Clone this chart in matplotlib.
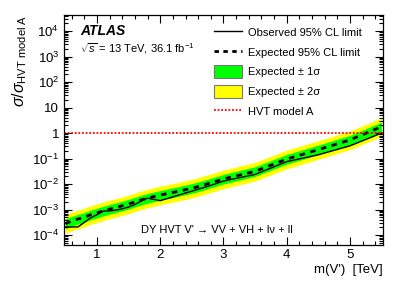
import numpy as np
import matplotlib
matplotlib.use('Agg')
import matplotlib.pyplot as plt
from matplotlib.lines import Line2D
from matplotlib.patches import Patch
from matplotlib.ticker import FixedLocator, LogLocator, MultipleLocator, NullFormatter

plt.rcParams['font.family'] = ['Liberation Sans', 'DejaVu Sans']
plt.rcParams['mathtext.fontset'] = 'custom'
plt.rcParams['mathtext.rm'] = 'Liberation Sans'
plt.rcParams['mathtext.it'] = 'Liberation Sans:italic'
plt.rcParams['mathtext.bf'] = 'Liberation Sans:bold'

# DATOS (log10 de sigma / sigma_HVT)
masa = [0.5, 0.6, 0.7, 0.8, 0.9, 1.0, 1.1, 1.2, 1.3, 1.4, 1.5, 1.6, 1.7, 1.8, 1.9,
        2.0, 2.2, 2.4, 2.6, 2.8, 3.0, 3.5, 4.0, 4.5, 5.0, 5.5]
esperado = [-3.55, -3.45, -3.37, -3.30, -3.20, -3.13, -3.05, -2.98, -2.92, -2.85, -2.78,
            -2.70, -2.62, -2.55, -2.49, -2.43, -2.33, -2.22, -2.10, -1.95, -1.80, -1.50,
            -1.02, -0.65, -0.27, 0.25]
observado = [-3.68, -3.68, -3.68, -3.50, -3.32, -3.20, -3.06, -3.05, -3.02, -2.97, -2.90,
             -2.80, -2.66, -2.55, -2.60, -2.65, -2.50, -2.35, -2.20, -2.05, -1.88, -1.62,
             -1.12, -0.85, -0.50, 0.00]
mas_1s = [-3.37, -3.27, -3.19, -3.12, -3.02, -2.95, -2.87, -2.80, -2.74, -2.67, -2.60,
          -2.52, -2.44, -2.37, -2.31, -2.25, -2.15, -2.04, -1.92, -1.77, -1.62, -1.32,
          -0.84, -0.47, -0.09, 0.43]
menos_1s = [-3.75, -3.65, -3.57, -3.50, -3.40, -3.33, -3.25, -3.18, -3.12, -3.05, -2.98,
            -2.90, -2.82, -2.75, -2.69, -2.63, -2.53, -2.42, -2.30, -2.15, -2.00, -1.70,
            -1.22, -0.85, -0.47, 0.05]
mas_2s = [-3.20, -3.10, -3.02, -2.95, -2.85, -2.78, -2.70, -2.63, -2.57, -2.50, -2.43,
          -2.35, -2.27, -2.20, -2.14, -2.08, -1.98, -1.87, -1.75, -1.60, -1.45, -1.15,
          -0.67, -0.30, 0.08, 0.60]
menos_2s = [-3.93, -3.83, -3.75, -3.68, -3.58, -3.51, -3.43, -3.36, -3.30, -3.23, -3.16,
            -3.08, -3.00, -2.93, -2.87, -2.81, -2.71, -2.60, -2.48, -2.33, -2.18, -1.88,
            -1.40, -1.03, -0.65, -0.13]
modelo_A = 1.0

m = np.array(masa)
exp_ = 10 ** np.array(esperado)
obs = 10 ** np.array(observado)

# FIGURA
fig = plt.figure(figsize=(4.03, 2.92), dpi=100)
ax = fig.add_axes([0.159, 0.161, 0.791, 0.788])

ax.fill_between(m, 10 ** np.array(menos_2s), 10 ** np.array(mas_2s), color='#ffff00', lw=0)
ax.fill_between(m, 10 ** np.array(menos_1s), 10 ** np.array(mas_1s), color='#00ff00', lw=0)
ax.plot(m, obs, 'k-', lw=1.0)
ax.plot(m, exp_, 'k', lw=2.0, dashes=(2.0, 2.0))
ax.axhline(modelo_A, color='#ff0000', lw=1.3, dashes=(1.0, 1.0))

ax.set_yscale('log')
ax.set_xlim(0.48, 5.52)
ax.set_ylim(4.1e-5, 4.3e4)

# EJES
ax.yaxis.set_major_locator(FixedLocator([1e-4, 1e-3, 1e-2, 1e-1, 1, 10, 1e2, 1e3, 1e4]))
ax.set_yticklabels(['$10^{-4}$', '$10^{-3}$', '$10^{-2}$', '$10^{-1}$', '1', '10',
                    '$10^{2}$', '$10^{3}$', '$10^{4}$'])
ax.yaxis.set_minor_locator(LogLocator(base=10, subs=np.arange(2, 10), numticks=20))
ax.yaxis.set_minor_formatter(NullFormatter())
ax.xaxis.set_major_locator(MultipleLocator(1))
ax.xaxis.set_minor_locator(MultipleLocator(0.2))
ax.tick_params(which='both', direction='in', top=True, right=True, labelsize=9.5, width=0.8)
ax.tick_params(which='major', length=6)
ax.tick_params(which='minor', length=3)
ax.tick_params(axis='x', pad=3)
for s in ax.spines.values():
    s.set_linewidth(0.9)

ax.set_xlabel("m(V')  [TeV]", fontsize=9.5, ha='right', x=1.0, labelpad=2)
ax.set_ylabel(r'$\sigma/\sigma_{\mathrm{HVT\ model\ A}}$', fontsize=11.5, ha='right', y=1.0,
              labelpad=2)

# TEXTOS
ax.text(0.05, 0.93, 'ATLAS', transform=ax.transAxes, fontsize=10, fontweight='bold',
        style='italic', va='center')
ax.text(0.05, 0.855, r'$\sqrt{s}$ = 13 TeV, 36.1 fb$^{-1}$', transform=ax.transAxes,
        fontsize=8, va='center')
ax.text(0.24, 0.065, "DY HVT V' \u2192 VV + VH + l\u03bd + ll", transform=ax.transAxes,
        fontsize=8, va='center')

# LEYENDA
handles = [
    Line2D([], [], color='k', lw=1.0),
    Line2D([], [], color='k', lw=2.0, dashes=(1.6, 1.6)),
    Patch(facecolor='#00ff00', edgecolor='#777777', lw=0.8),
    Patch(facecolor='#ffff00', edgecolor='#777777', lw=0.8),
    Line2D([], [], color='#ff0000', lw=1.3, dashes=(1.0, 1.0)),
]
labels = ['Observed 95% CL limit', 'Expected 95% CL limit', 'Expected \u00b1 1\u03c3',
          'Expected \u00b1 2\u03c3', 'HVT model A']
ax.legend(handles, labels, loc='upper left', bbox_to_anchor=(0.47, 0.952), frameon=False,
          fontsize=8, handlelength=2.5, handleheight=1.4, handletextpad=0.55,
          labelspacing=0.62, borderpad=0, borderaxespad=0)

fig.savefig('out.png', dpi=100)
